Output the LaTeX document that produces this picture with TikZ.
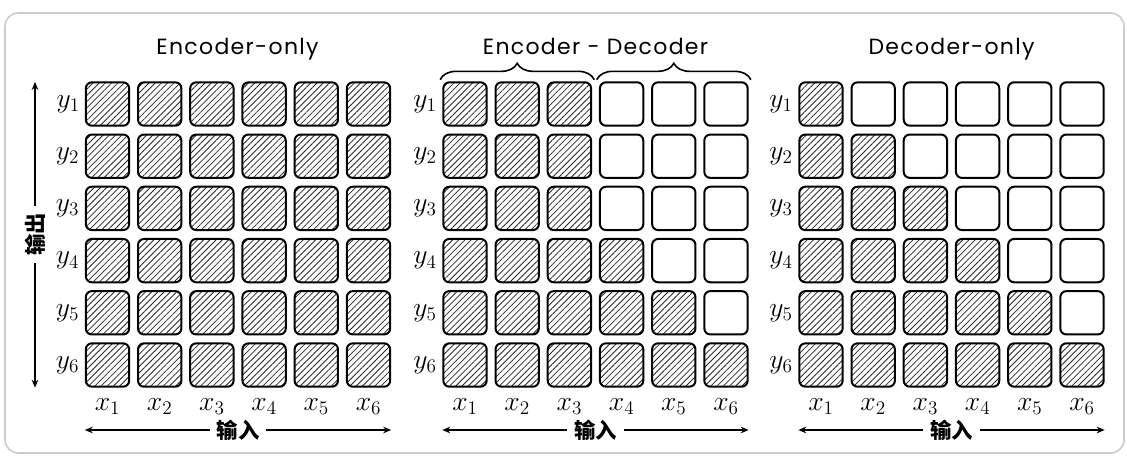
\documentclass[tikz,border=0pt]{standalone}
\usepackage{fontspec}
\usepackage{amsmath}
\usetikzlibrary{arrows.meta,decorations.pathreplacing,patterns.meta}

\newfontfamily\titlefont[LetterSpace=6]{Poppins}
\newfontfamily\cjkfont{Noto Sans CJK SC}

\tikzset{
  cell/.style={draw,line width=1.5pt,rounded corners=4.5pt,minimum size=32.5pt,inner sep=0pt},
  hatched/.style={cell,pattern={Lines[angle=45,distance=3.3pt,line width=0.6pt]},pattern color=black!85},
  lab/.style={inner sep=0pt,font=\fontsize{20}{24}\selectfont},
  title/.style={inner sep=0pt,anchor=base,font=\titlefont\fontsize{16.5}{20}\selectfont},
  axis/.style={inner sep=5pt,font=\cjkfont\bfseries\fontsize{16}{18}\selectfont},
  arr/.style={line width=1.1pt,-{Stealth[length=6pt,width=5pt]}},
  brace/.style={decorate,decoration={brace,amplitude=12pt},line width=1.2pt,line cap=round},
  frame/.style={draw=gray!40,line width=1.2pt,rounded corners=10pt}
}

\begin{document}
\begin{tikzpicture}[x=0.75pt,y=-0.75pt]
  \useasboundingbox (0,0) rectangle (1127,456);
  \draw[frame] (5,13) rectangle (1124,453);

  % three 6x6 attention masks
  \foreach \g/\gx in {1/107.5,2/465,3/821} {
    \foreach \r in {1,...,6} {
      \foreach \c in {1,...,6} {
        \pgfmathtruncatemacro\on{(\g==1) || (\g==2 && \c<=3) || (\c<=\r)}
        \ifnum\on=1 \def\sty{hatched}\else\def\sty{cell}\fi
        \node[\sty] (g\g-\r-\c) at ({\gx+52.2*(\c-1)},{104+52.2*(\r-1)}) {};
      }
      \node[lab,anchor=east] (y\g-\r) at ([xshift=-4pt]g\g-\r-1.west) {$y_{\r}$};
    }
    \foreach \c in {1,...,6}
      \node[lab,anchor=north] (x\g-\c) at ([yshift=-8pt]g\g-6-\c.south) {$x_{\c}$};

    \node[axis] (in\g) at ({\gx+130.5},430) {输入};
    \coordinate (l\g) at (g\g-6-1.west |- in\g);
    \coordinate (r\g) at (g\g-6-6.east |- in\g);
    \draw[arr] (in\g) -- (l\g);
    \draw[arr] (in\g) -- (r\g);
  }

  \node[title] (t1) at (237.5,55) {Encoder-only};
  \node[title] (t2) at (595.5,55) {Encoder - Decoder};
  \node[title] (t3) at (951.5,55) {Decoder-only};

  \draw[brace] ([xshift=-1.5pt,yshift=1.5pt]g2-1-1.north west) -- ([xshift=1.5pt,yshift=1.5pt]g2-1-3.north east);
  \draw[brace] ([xshift=-1.5pt,yshift=1.5pt]g2-1-4.north west) -- ([xshift=1.5pt,yshift=1.5pt]g2-1-6.north east);

  \node[axis,rotate=90] (out) at (35,234.5) {输出};
  \coordinate (ot) at (out |- g1-1-1.north);
  \coordinate (ob) at (out |- g1-6-1.south);
  \draw[arr] (out) -- (ot);
  \draw[arr] (out) -- (ob);
\end{tikzpicture}
\end{document}
